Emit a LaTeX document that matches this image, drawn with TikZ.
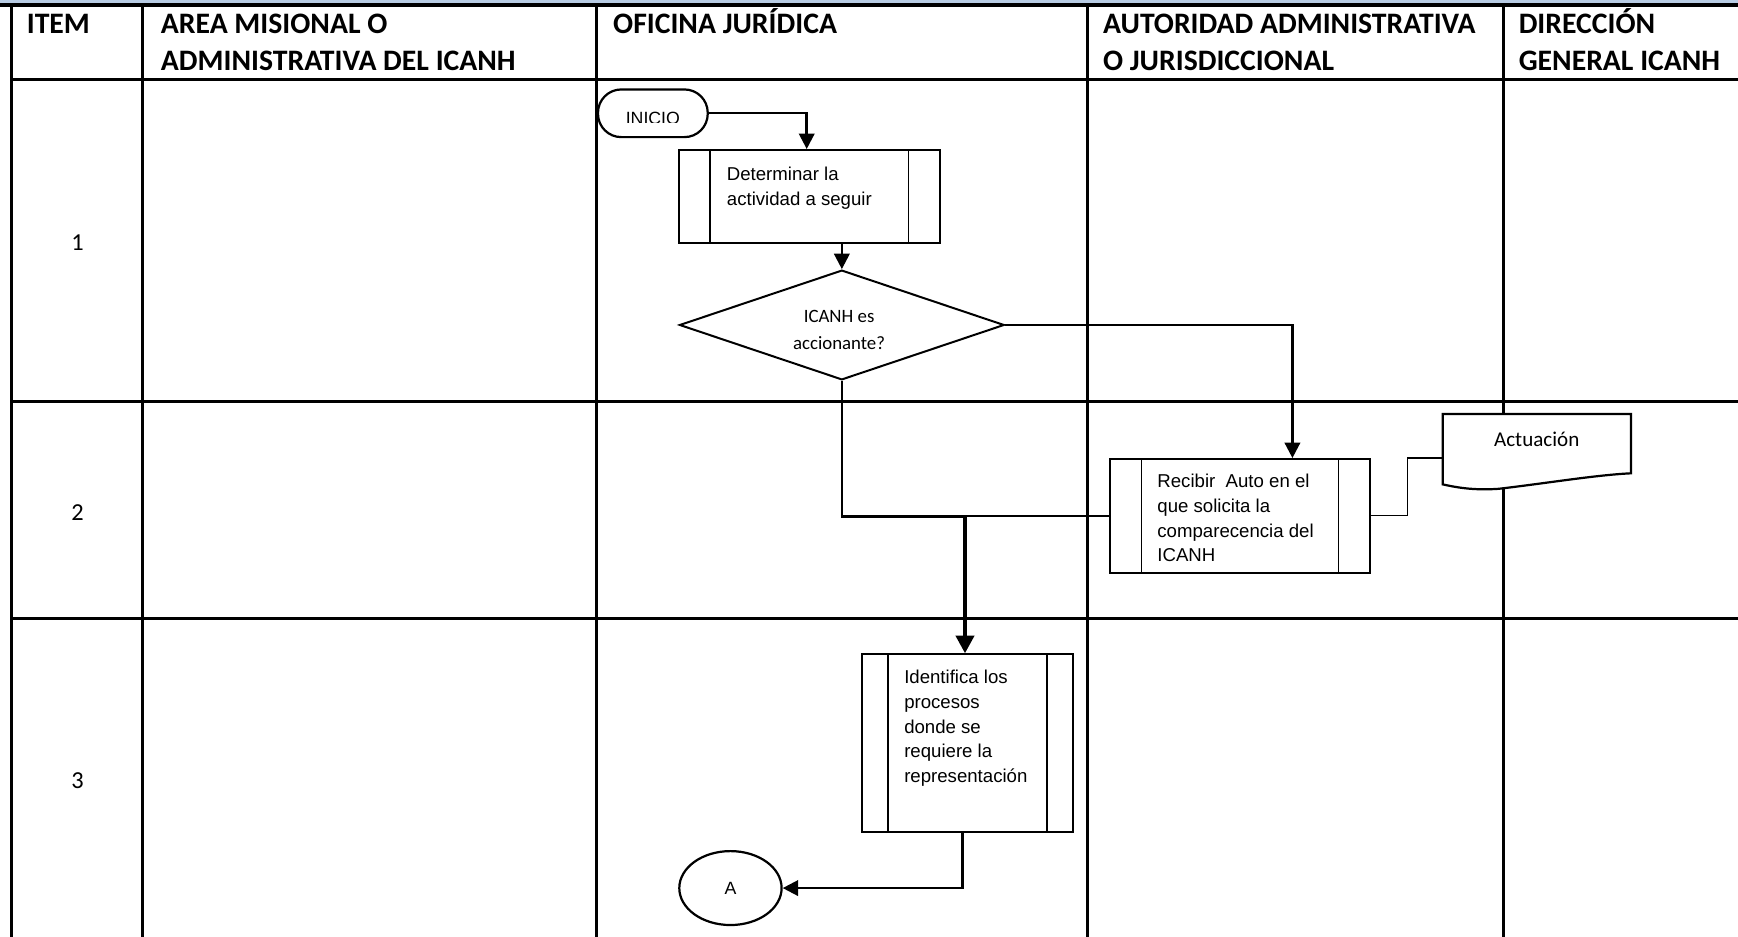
\documentclass[tikz,border=0pt]{standalone}
\usepackage{fontspec}
\setmainfont{Liberation Sans}
\newfontfamily\calibri{Carlito}
\usetikzlibrary{arrows.meta,shapes.geometric}
\definecolor{bandblue}{RGB}{184,204,228}
\begin{document}
\begin{tikzpicture}[x=1pt,y=-1pt,
  gridline/.style={line width=2.7pt},
  hdr/.style={anchor=north west,inner sep=0pt,align=left,font=\calibri\bfseries\fontsize{26.8}{33}\selectfont},
  rownum/.style={inner sep=0pt,font=\calibri\fontsize{22}{26}\selectfont},
  procbox/.style={draw,line width=1.7pt,fill=white,rectangle,inner sep=0pt,
    path picture={
      \draw[line width=1.7pt] ([xshift=#1]path picture bounding box.north west) -- ([xshift=#1]path picture bounding box.south west);
      \draw[line width=1.7pt] ([xshift=-#1]path picture bounding box.north east) -- ([xshift=-#1]path picture bounding box.south east);}},
  boxtext/.style={anchor=north west,inner sep=0pt,align=left,font=\fontsize{16.8}{22.3}\selectfont},
  dectext/.style={anchor=north,inner sep=0pt,align=center,font=\calibri\fontsize{17}{24}\selectfont},
  terminal/.style={draw,line width=2pt,fill=white,rounded corners=21pt,inner sep=0pt},
  decision/.style={draw,diamond,line width=1.8pt,fill=white,inner sep=0pt},
  connector/.style={draw,ellipse,line width=2pt,fill=white,inner sep=0pt,font=\fontsize{16}{19}\selectfont},
  docshape/.style={draw,line width=2pt,fill=white},
  conn/.style={line width=2.2pt,-{Triangle[length=14pt,width=14pt]}},
  thickconn/.style={line width=4pt,-{Triangle[length=16pt,width=16pt]}},
  link/.style={line width=2.2pt},
  thinlink/.style={line width=1.1pt},
]
\useasboundingbox (0,0) rectangle (1568,845);
% top band
\fill[bandblue] (0,0) rectangle (1568,3.2);
% grid
\draw[gridline] (10,4) -- (10,845);
\foreach \x in {128.7,538.3,981.5,1356.8} \draw[gridline] (\x,4) -- (\x,845);
\foreach \y in {71.3,362.4,557.9} \draw[gridline] (10,\y) -- (1568,\y);
\draw[line width=3.4pt] (0,4.6) -- (1568,4.6);

% header texts
\node[hdr] (hItem) at (24,7.1) {\strut ITEM};
\node[hdr] (hArea) at (145,7.1) {\strut AREA MISIONAL O\\ADMINISTRATIVA DEL ICANH};
\node[hdr] (hOfi) at (553,7.1) {\strut OFICINA JURÍDICA};
\node[hdr] (hAut) at (995,7.1) {\strut AUTORIDAD ADMINISTRATIVA\\O JURISDICCIONAL};
\node[hdr] (hDir) at (1370,7.1) {\strut DIRECCIÓN\\GENERAL ICANH};

% row numbers
\node[rownum] (r1) at (70,219) {1};
\node[rownum] (r2) at (70,462) {2};
\node[rownum] (r3) at (70,704) {3};

% shapes
\node[terminal,minimum width=99pt,minimum height=43pt] (inicio) at (589,102.2) {};
\begin{scope}
  \clip (540,85) rectangle (640,110.7);
  \node[anchor=base,inner sep=0pt,font=\fontsize{16}{18}\selectfont] (inicioT) at (589,112) {INICIO};
\end{scope}
\node[procbox=28pt,minimum width=234.9pt,minimum height=84.2pt] (det) at (730.2,177.4) {};
\node[decision,minimum width=293pt,minimum height=99pt] (dec) at (759.5,293.2) {};
\node[procbox=28.4pt,minimum width=234.6pt,minimum height=102.6pt] (rec) at (1118.7,465.4) {};
\node[procbox=22.9pt,minimum width=189.8pt,minimum height=160.3pt] (ide) at (872.9,670.5) {};
\node[connector,minimum width=92.3pt,minimum height=66.7pt] (circA) at (659,801.2) {A};
\draw[docshape] (1301.6,373.5) -- (1471.5,373.5) -- (1471.5,427)
  .. controls (1440,428.5) and (1395,436) .. (1352,441)
  .. controls (1330,442.5) and (1315,440) .. (1301.6,437) -- cycle;
\node[anchor=base,inner sep=0pt,font=\calibri\fontsize{19}{23}\selectfont] (act) at (1386.4,403) {Actuación};
\coordinate (actin) at (1301.6,413.2);

% texts in boxes
\node[boxtext] (detT) at (655.6,147.4) {\strut Determinar la\\actividad a seguir};
\node[dectext] (decT) at (757,274.4) {\strut ICANH es\\accionante?};
\node[boxtext] (recT) at (1044,424.1) {\strut Recibir\ \ Auto en el\\que solicita la\\comparecencia del\\ICANH};
\node[boxtext] (ideT) at (815.6,600.9) {\strut Identifica los\\procesos\\donde se\\requiere la\\representación};

% connectors
\coordinate (jn) at (870.6,466);
\draw[conn] (inicio.east) -| ([xshift=-2.4pt]det.north);
\draw[conn] (dec.north |- det.south) -- (dec.north);
\draw[conn] (dec.east) -| ([xshift=47.3pt]rec.north);
\draw[link] (dec.south) |- (jn);
\draw[link] (rec.west) -- (rec.west -| jn);
\draw[thickconn] (jn) -- (jn |- ide.north);
\draw[conn] ([xshift=-4.4pt]ide.south) |- (circA.east);
\draw[thinlink] (rec.east) -- ++(33,0) |- (actin);
\end{tikzpicture}
\end{document}
